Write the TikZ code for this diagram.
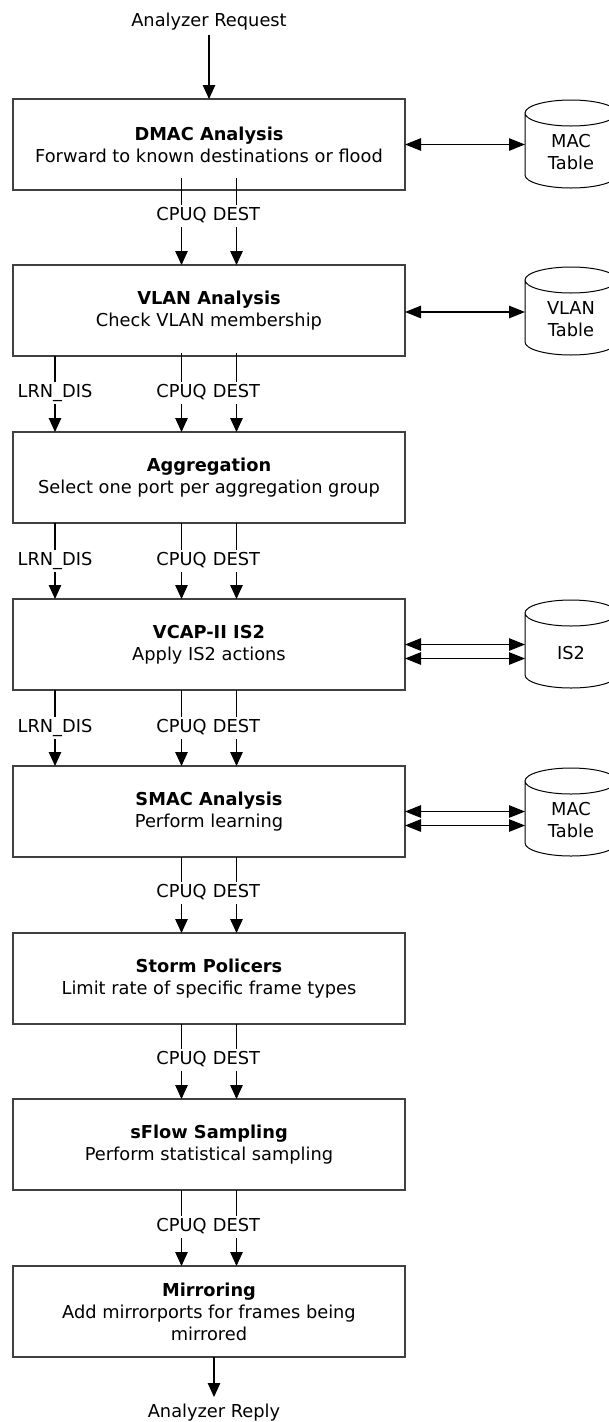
\documentclass[tikz,border=0pt]{standalone}
\usepackage{fontspec}
\setmainfont{DejaVu Sans}
\usetikzlibrary{arrows.meta}

% cylinder outline: #1 centre x, #2 top y, #3 bottom y (y counted downward)
\newcommand\tankoutline[3]{%
  \draw[tankline] (#1-46,-#2-13) -- (#1-46,-#3+13)
    arc[start angle=180,end angle=360,x radius=46,y radius=13]
    -- (#1+46,-#2-13)
    arc[start angle=0,end angle=180,x radius=46,y radius=13]
    arc[start angle=180,end angle=360,x radius=46,y radius=13];}

\begin{document}
\begin{tikzpicture}[x=1pt,y=1pt,
  every node/.style={font=\fontsize{17.8}{22}\selectfont},
  stagebox/.style={draw=black!75, line width=1.1pt, minimum width=392pt,
    minimum height=91pt, align=center, inner sep=0pt, outer sep=0pt},
  dbstore/.style={minimum width=92pt, inner sep=0pt, outer sep=0pt, align=center},
  flowarrow/.style={line width=1.1pt, -{Triangle[length=14pt,width=12.5pt]}},
  dblink/.style={line width=1.1pt,
    {Triangle[length=16pt,width=12.5pt]}-{Triangle[length=16pt,width=12.5pt]}},
  siglabel/.style={fill=white, inner sep=2.5pt, text height=13pt, text depth=3.5pt},
  tankline/.style={draw=black, line width=1pt},
]
\useasboundingbox (0,0) rectangle (608,-1422);

% end points of the pipeline
\node[anchor=base, text depth=0pt, inner xsep=2pt, inner ysep=9pt, outer sep=0pt]
  (req) at (209,-26) {Analyzer Request};
\node[anchor=base, text height=13pt, inner xsep=2pt, inner ysep=7pt, outer sep=0pt]
  (reply) at (214,-1417) {Analyzer Reply};

% processing stages
\node[stagebox] (dmac)   at (209,-144.5)  {\textbf{DMAC Analysis}\\Forward to known destinations or flood};
\node[stagebox] (vlan)   at (209,-310.5)  {\textbf{VLAN Analysis}\\Check VLAN membership};
\node[stagebox] (aggr)   at (209,-477.5)  {\textbf{Aggregation}\\Select one port per aggregation group};
\node[stagebox] (vcap)   at (209,-644.5)  {\textbf{VCAP-II IS2}\\Apply IS2 actions};
\node[stagebox] (smac)   at (209,-811.5)  {\textbf{SMAC Analysis}\\Perform learning};
\node[stagebox] (storm)  at (209,-978.5)  {\textbf{Storm Policers}\\Limit rate of specific frame types};
\node[stagebox] (sflow)  at (209,-1144.5) {\textbf{sFlow Sampling}\\Perform statistical sampling};
\node[stagebox] (mirror) at (209,-1311.5) {\textbf{Mirroring}\\Add mirrorports for frames being\\mirrored};

% tables
\tankoutline{571}{100}{188}
\tankoutline{571}{267}{355}
\tankoutline{571}{600}{688}
\tankoutline{571}{768}{856}
\node[dbstore] (mactab)  at (571,-152) {MAC\\Table};
\node[dbstore] (vlantab) at (571,-319) {VLAN\\Table};
\node[dbstore] (is2tab)  at (571,-653) {IS2};
\node[dbstore] (smactab) at (571,-820) {MAC\\Table};

% table lookups
\draw[dblink] (dmac.east) -- (dmac.east -| mactab.west);
\draw[dblink] ([yshift=-1.5pt]vlan.east) -- ([yshift=-1.5pt]vlan.east -| vlantab.west);
\draw[dblink] (vcap.east) -- (vcap.east -| is2tab.west);
\draw[dblink] ([yshift=-14pt]vcap.east) -- ([yshift=-14pt]vcap.east -| is2tab.west);
\draw[dblink] (smac.east) -- (smac.east -| smactab.west);
\draw[dblink] ([yshift=-14pt]smac.east) -- ([yshift=-14pt]smac.east -| smactab.west);

% request and reply
\draw[flowarrow] (req.south) -- (dmac.north);
\draw[flowarrow] ([xshift=5pt]mirror.south) -- (reply.north);

% CPUQ / DEST signals between stages
\draw[flowarrow] ([xshift=-27.5pt,yshift=12pt]dmac.south) -- ([xshift=-27.5pt]vlan.north);
\draw[flowarrow] ([xshift=27.5pt,yshift=12pt]dmac.south) -- ([xshift=27.5pt]vlan.north);
\draw[flowarrow] ([xshift=-27.5pt,yshift=3pt]vlan.south) -- ([xshift=-27.5pt]aggr.north);
\draw[flowarrow] ([xshift=27.5pt,yshift=3pt]vlan.south) -- ([xshift=27.5pt]aggr.north);
\foreach \a/\b in {aggr/vcap, vcap/smac, smac/storm, storm/sflow, sflow/mirror}{
  \draw[flowarrow] ([xshift=-27.5pt]\a.south) -- ([xshift=-27.5pt]\b.north);
  \draw[flowarrow] ([xshift=27.5pt]\a.south) -- ([xshift=27.5pt]\b.north);
}

% LRN_DIS signals
\foreach \a/\b in {vlan/aggr, aggr/vcap, vcap/smac}{
  \draw[flowarrow] ([xshift=-154pt]\a.south) -- ([xshift=-154pt]\b.north);
}

% signal names
\foreach \n/\y in {1/216, 2/393, 3/561, 4/728, 5/893, 6/1060, 7/1227}{
  \node[siglabel] (cpuq\n) at (181.5,-\y) {CPUQ};
  \node[siglabel] (dest\n) at (236.5,-\y) {DEST};
}
\foreach \n/\y in {2/393, 3/561, 4/728}{
  \node[siglabel] (lrn\n) at (55,-\y) {LRN\_DIS};
}
\end{tikzpicture}
\end{document}
